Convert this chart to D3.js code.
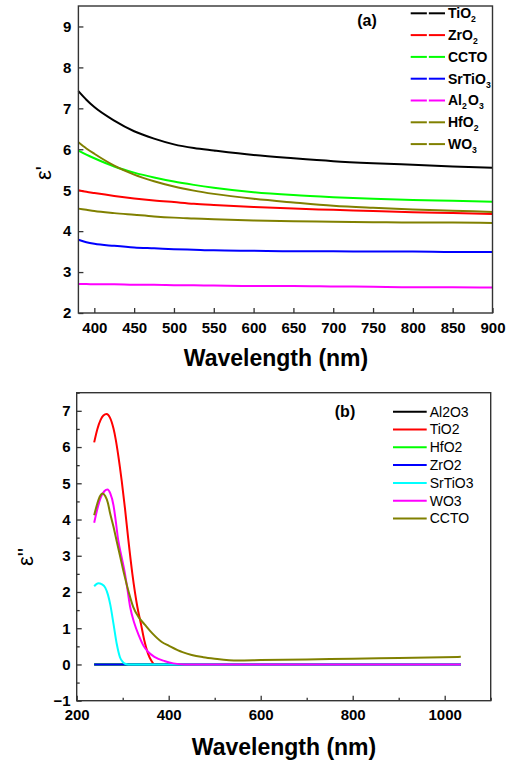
<!DOCTYPE html>
<html>
<head>
<meta charset="utf-8">
<script src="https://cdn.jsdelivr.net/npm/d3@7"></script>
<style>
  body { margin: 0; background: #fff; }
  svg { display: block; font-family: "Liberation Sans", Arial, sans-serif; }
  .tick text { font-size: 15px; font-weight: bold; fill: #000; }
  .tick line { stroke: #333; stroke-width: 1.3; }
  .frame { fill: none; stroke: #333; stroke-width: 1.4; }
  .curve { fill: none; stroke-width: 2; }
</style>
</head>
<body>
<svg id="chart"></svg>
<script>
'use strict';

// ---- panel (a): real part, common wavelength grid ----
var wlA = [380, 390, 400, 425, 450, 475, 500, 525, 550, 600, 650, 700, 750, 800, 850, 900];
var tio2A  = [7.42, 7.21, 7.03, 6.70, 6.44, 6.26, 6.12, 6.03, 5.97, 5.86, 5.78, 5.71, 5.66, 5.62, 5.58, 5.55];
var zro2A  = [5.00, 4.96, 4.93, 4.86, 4.80, 4.75, 4.71, 4.67, 4.64, 4.59, 4.55, 4.52, 4.49, 4.46, 4.44, 4.42];
var cctoA  = [5.97, 5.87, 5.78, 5.58, 5.43, 5.31, 5.21, 5.13, 5.06, 4.95, 4.88, 4.83, 4.79, 4.76, 4.74, 4.72];
var srtioA = [3.79, 3.73, 3.69, 3.64, 3.60, 3.58, 3.56, 3.545, 3.53, 3.52, 3.51, 3.51, 3.50, 3.50, 3.49, 3.49];
var al2o3A = [2.71, 2.71, 2.70, 2.70, 2.69, 2.69, 2.68, 2.675, 2.67, 2.66, 2.66, 2.65, 2.64, 2.63, 2.63, 2.62];
var hfo2A  = [4.55, 4.52, 4.49, 4.44, 4.40, 4.36, 4.33, 4.31, 4.29, 4.26, 4.24, 4.23, 4.22, 4.21, 4.21, 4.20];
var wo3A   = [6.17, 6.02, 5.89, 5.60, 5.38, 5.22, 5.09, 4.99, 4.91, 4.79, 4.70, 4.62, 4.57, 4.53, 4.50, 4.47];
var namesA = ['TiO2', 'ZrO2', 'CCTO', 'SrTiO3', 'Al2O3', 'HfO2', 'WO3'];
var colorsA = ['#000000', '#ff0000', '#00ff00', '#0000ff', '#ff00ff', '#808000', '#808000'];
var xTicksA = [400, 450, 500, 550, 600, 650, 700, 750, 800, 850, 900];
var yTicksA = [2, 3, 4, 5, 6, 7, 8, 9];

// ---- panel (b): imaginary part, one wavelength list per series ----
var al2o3WlB = [238, 1035];
var al2o3B   = [0, 0];
var tio2WlB  = [238, 245, 252, 258, 265, 272, 280, 285, 290, 298, 305, 312, 321, 332, 340, 347, 355, 362, 370, 1035];
var tio2B    = [6.13, 6.50, 6.75, 6.87, 6.91, 6.82, 6.51, 6.20, 5.80, 5.05, 4.30, 3.47, 2.50, 1.58, 1.10, 0.66, 0.30, 0.11, 0, 0];
var hfo2WlB  = [238, 1035];
var hfo2B    = [0, 0];
var zro2WlB  = [238, 1035];
var zro2B    = [0, 0];
var srtioWlB = [238, 247, 255, 262, 268, 273, 280, 287, 294, 300, 305, 312, 320, 1035];
var srtioB   = [2.16, 2.24, 2.21, 2.12, 1.92, 1.65, 1.12, 0.57, 0.20, 0.07, 0.02, 0, 0, 0];
var wo3WlB   = [238, 245, 252, 260, 267, 273, 280, 285, 290, 297, 305, 310, 316, 325, 335, 345, 355, 370, 392, 410, 435, 1035];
var wo3B     = [3.91, 4.30, 4.60, 4.78, 4.83, 4.72, 4.39, 3.95, 3.45, 3.00, 2.50, 2.10, 1.60, 1.15, 0.80, 0.52, 0.35, 0.20, 0.09, 0.03, 0, 0];
var cctoWlB  = [238, 245, 250, 256, 262, 268, 272, 280, 287, 295, 303, 313, 323, 335, 348, 365, 385, 400, 430, 450, 475, 500, 550, 600, 700, 800, 900, 1035];
var cctoB    = [4.12, 4.45, 4.63, 4.72, 4.65, 4.45, 4.21, 3.80, 3.40, 2.95, 2.50, 2.00, 1.58, 1.30, 1.10, 0.85, 0.62, 0.52, 0.34, 0.26, 0.20, 0.16, 0.11, 0.12, 0.14, 0.16, 0.18, 0.21];
var namesB = ['Al2O3', 'TiO2', 'HfO2', 'ZrO2', 'SrTiO3', 'WO3', 'CCTO'];
var colorsB = ['#000000', '#ff0000', '#00ff00', '#0000ff', '#00ffff', '#ff00ff', '#808000'];
var xTicksB = [200, 400, 600, 800, 1000];
var xMinorB = [300, 500, 700, 900, 1100];
var yTicksB = [-1, 0, 1, 2, 3, 4, 5, 6, 7];
var yMinorB = [-0.5, 0.5, 1.5, 2.5, 3.5, 4.5, 5.5, 6.5, 7.5];

var seriesA = [tio2A, zro2A, cctoA, srtioA, al2o3A, hfo2A, wo3A].map(function (vals) {
  return vals.map(function (v, i) { return [wlA[i], v]; });
});
var seriesB = [
  [al2o3WlB, al2o3B], [tio2WlB, tio2B], [hfo2WlB, hfo2B], [zro2WlB, zro2B],
  [srtioWlB, srtioB], [wo3WlB, wo3B], [cctoWlB, cctoB]
].map(function (p) {
  return p[0].map(function (w, i) { return [w, p[1][i]]; });
});

var svg = d3.select('#chart').attr('width', 506).attr('height', 761);

// label with digits set as subscripts
function subLabel(sel, name, size) {
  name.split(/(\d)/).forEach(function (part) {
    if (!part) return;
    if (/\d/.test(part)) {
      sel.append('tspan').attr('dy', 4).attr('font-size', size * 0.62).text(part);
      sel.append('tspan').attr('dy', -4).text('\u200a');
    } else {
      sel.append('tspan').text(part);
    }
  });
}

function panel(opt) {
  var x = d3.scaleLinear().domain(opt.xDomain).range([opt.left, opt.right]);
  var y = d3.scaleLinear().domain(opt.yDomain).range([opt.bottom, opt.top]);
  var g = svg.append('g');

  g.append('g')
    .attr('transform', 'translate(0,' + opt.bottom + ')')
    .call(d3.axisBottom(x).tickValues(opt.xTicks).tickSize(-5).tickPadding(opt.xPad).tickFormat(d3.format('d')))
    .call(function (a) { a.select('.domain').remove(); });
  g.append('g')
    .attr('transform', 'translate(' + opt.left + ',0)')
    .call(d3.axisLeft(y).tickValues(opt.yTicks).tickSize(-5).tickPadding(opt.yPad).tickFormat(d3.format('d')))
    .call(function (a) { a.select('.domain').remove(); });

  if (opt.xMinor) {
    g.append('g')
      .attr('transform', 'translate(0,' + opt.bottom + ')')
      .call(d3.axisBottom(x).tickValues(opt.xMinor).tickSize(-3).tickFormat(''))
      .call(function (a) { a.select('.domain').remove(); });
    g.append('g')
      .attr('transform', 'translate(' + opt.left + ',0)')
      .call(d3.axisLeft(y).tickValues(opt.yMinor).tickSize(-3).tickFormat(''))
      .call(function (a) { a.select('.domain').remove(); });
  }

  var line = d3.line()
    .x(function (d) { return x(d[0]); })
    .y(function (d) { return y(d[1]); })
    .curve(d3.curveMonotoneX);

  g.selectAll('path.curve').data(opt.series).enter()
    .append('path')
    .attr('class', 'curve')
    .attr('stroke', function (d, i) { return opt.colors[i]; })
    .attr('d', line);

  g.append('rect')
    .attr('class', 'frame')
    .attr('x', opt.left).attr('y', opt.top)
    .attr('width', opt.right - opt.left).attr('height', opt.bottom - opt.top);

  // legend
  opt.names.forEach(function (name, i) {
    var ly = opt.legY + i * opt.legStep;
    if (opt.legGap) {
      var mid = (opt.legX0 + opt.legX1) / 2;
      g.append('line').attr('x1', opt.legX0).attr('x2', mid - 1).attr('y1', ly).attr('y2', ly)
        .attr('stroke', opt.colors[i]).attr('stroke-width', 2);
      g.append('line').attr('x1', mid + 1).attr('x2', opt.legX1).attr('y1', ly).attr('y2', ly)
        .attr('stroke', opt.colors[i]).attr('stroke-width', 2);
    } else {
      g.append('line').attr('x1', opt.legX0).attr('x2', opt.legX1).attr('y1', ly).attr('y2', ly)
        .attr('stroke', opt.colors[i]).attr('stroke-width', 2);
    }
    var t = g.append('text')
      .attr('x', opt.legX1 + 3).attr('y', ly).attr('dy', '0.35em')
      .attr('font-size', 14)
      .attr('font-weight', opt.legBold ? 'bold' : 'normal');
    if (opt.legSub) subLabel(t, name, 14); else t.text(name);
  });

  g.append('text')
    .attr('x', opt.tagX).attr('y', opt.tagY)
    .attr('text-anchor', 'middle').attr('font-size', 16).attr('font-weight', 'bold')
    .text(opt.tag);

  g.append('text')
    .attr('x', opt.titleX).attr('y', opt.titleY)
    .attr('text-anchor', 'middle').attr('font-size', 23).attr('font-weight', 'bold')
    .text('Wavelength (nm)');

  g.append('text')
    .attr('transform', 'translate(' + opt.ylabX + ',' + opt.ylabY + ') rotate(-90)')
    .attr('text-anchor', 'middle').attr('dy', '0.35em').attr('font-size', 22)
    .text(opt.ylab);
}

panel({
  left: 78.4, right: 492.5, top: 6, bottom: 313,
  xDomain: [380, 900], yDomain: [2, 9.5],
  xTicks: xTicksA, yTicks: yTicksA, xPad: 9, yPad: 7,
  series: seriesA, colors: colorsA, names: namesA,
  legX0: 410.7, legX1: 445, legY: 13.3, legStep: 21.8, legGap: true, legBold: true, legSub: true,
  tag: '(a)', tagX: 367, tagY: 26,
  titleX: 276, titleY: 366,
  ylab: "\u03b5'", ylabX: 43, ylabY: 173
});

panel({
  left: 76.7, right: 490.7, top: 392.7, bottom: 700.7,
  xDomain: [200, 1100], yDomain: [-1, 7.5],
  xTicks: xTicksB, yTicks: yTicksB, xPad: 9, yPad: 6,
  xMinor: xMinorB, yMinor: yMinorB,
  series: seriesB, colors: colorsB, names: namesB,
  legX0: 393, legX1: 426.7, legY: 411.7, legStep: 17.8, legGap: false, legBold: false, legSub: false,
  tag: '(b)', tagX: 345, tagY: 417,
  titleX: 284, titleY: 755,
  ylab: "\u03b5''", ylabX: 25, ylabY: 557
});
</script>
</body>
</html>
